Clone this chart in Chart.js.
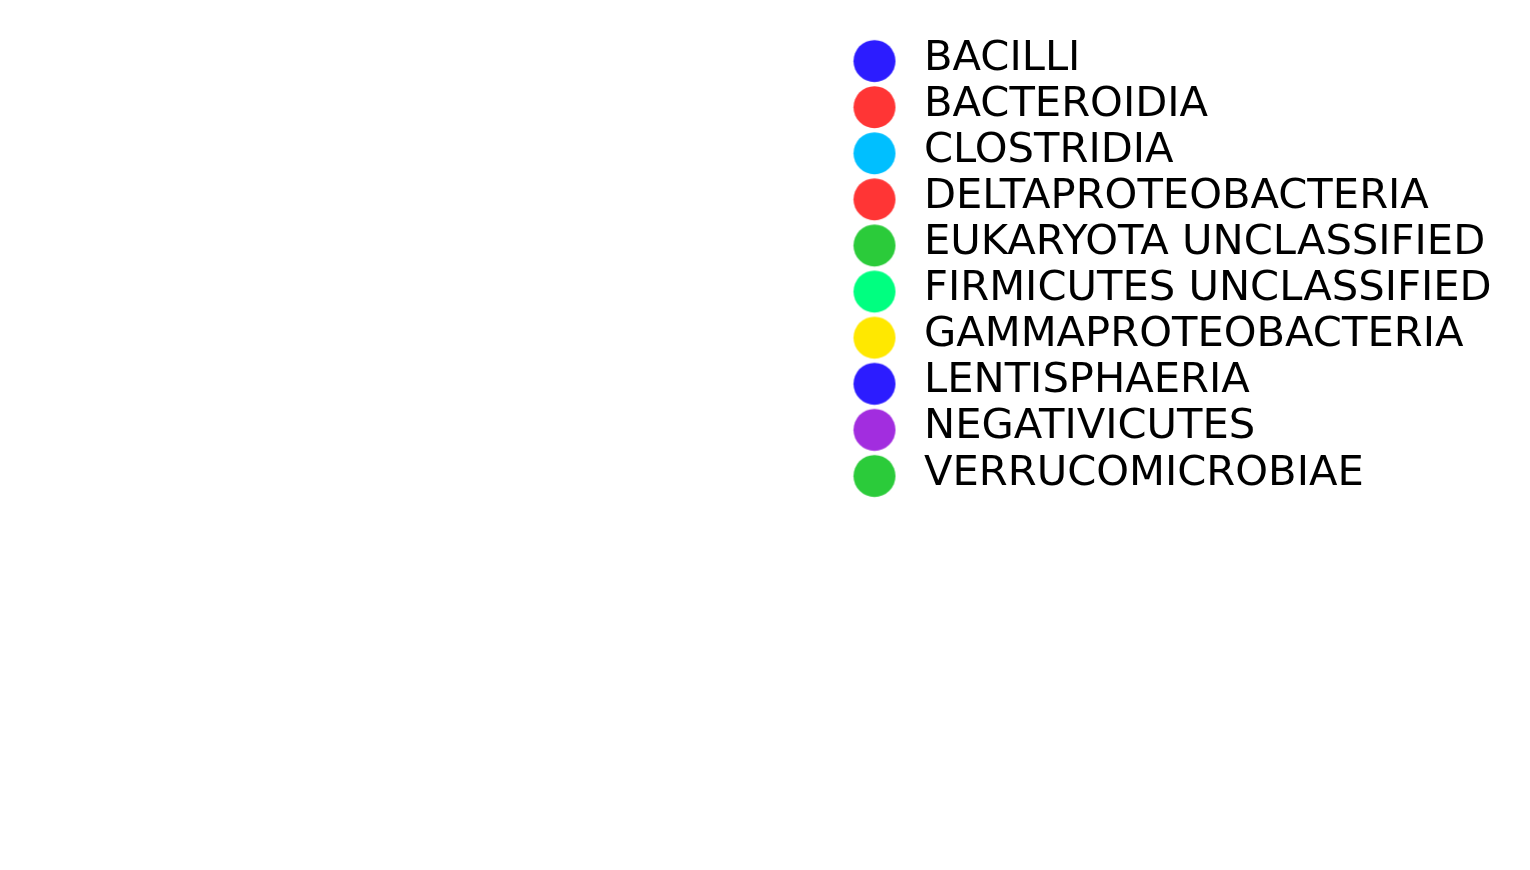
<!DOCTYPE html>
<html>
<head>
<meta charset="utf-8">
<script src="https://cdn.jsdelivr.net/npm/chart.js@4"></script>
<style>
  html, body { margin: 0; padding: 0; background: #ffffff; }
  #wrap { width: 1530px; height: 870px; }
</style>
</head>
<body>
<div id="wrap"><canvas id="c" width="1530" height="870"></canvas></div>
<script>
const categories = [
  "BACILLI",
  "BACTEROIDIA",
  "CLOSTRIDIA",
  "DELTAPROTEOBACTERIA",
  "EUKARYOTA UNCLASSIFIED",
  "FIRMICUTES UNCLASSIFIED",
  "GAMMAPROTEOBACTERIA",
  "LENTISPHAERIA",
  "NEGATIVICUTES",
  "VERRUCOMICROBIAE"
];
const colors = [
  "#2c1cff",
  "#ff3535",
  "#00bfff",
  "#ff3535",
  "#2bcb3a",
  "#00ff80",
  "#ffe800",
  "#2c1cff",
  "#a22ddf",
  "#2bcb3a"
];
// The reference plot area shows no visible points: each class has an empty series.
const seriesValues = categories.map(() => []);

const LEGEND_LEFT = 841.4;

function circleImage(color) {
  const cv = document.createElement('canvas');
  cv.width = 44;
  cv.height = 60;
  const g = cv.getContext('2d');
  g.fillStyle = color;
  g.beginPath();
  g.arc(22, 32.2, 21, 0, Math.PI * 2);
  g.fill();
  return cv;
}

const datasets = categories.map((name, i) => ({
  label: name,
  data: seriesValues[i],
  backgroundColor: colors[i],
  borderColor: colors[i],
  pointStyle: circleImage(colors[i]),
  borderWidth: 0
}));

const chart = new Chart(document.getElementById('c'), {
  type: 'scatter',
  data: { datasets },
  options: {
    responsive: false,
    animation: false,
    devicePixelRatio: 1,
    layout: { padding: { left: 0, top: 33.6, right: 0, bottom: 0 } },
    scales: {
      x: { display: false },
      y: { display: false }
    },
    plugins: {
      tooltip: { enabled: false },
      legend: {
        position: 'right',
        align: 'start',
        labels: {
          usePointStyle: true,
          pointStyleWidth: 57.3,
          boxHeight: 41.67,
          padding: 4.43,
          color: '#000000',
          font: { family: 'DejaVu Sans', size: 41.67 }
        }
      }
    }
  }
});

// place the legend so that its left edge sits where the reference has it
chart.options.layout.padding.right = 1530 - LEGEND_LEFT - chart.legend.width;
chart.update();
</script>
</body>
</html>
